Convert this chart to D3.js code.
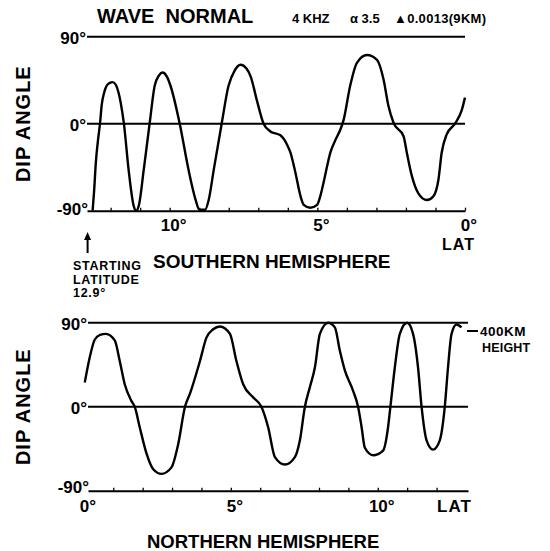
<!DOCTYPE html>
<html><head><meta charset="utf-8">
<script src="https://cdn.jsdelivr.net/npm/d3@7"></script>
<style>
html,body{margin:0;padding:0;background:#fff;}
text{font-family:"Liberation Sans",Arial,sans-serif;font-weight:bold;fill:#000;}
</style></head>
<body><svg id="c" width="550" height="551"></svg>
<script>
// ---- data ----
const topLat = [12.61,12.56,12.50,12.42,12.36,12.30,12.22,12.14,12.04,11.93,11.82,11.74,11.66,11.55,11.39,11.22,11.13,11.04,10.88,10.68,10.51,10.36,10.24,10.10,9.97,9.66,9.36,9.12,9.00,8.80,8.68,8.51,8.24,8.01,7.80,7.60,7.40,7.26,7.03,6.82,6.59,6.25,6.02,5.91,5.74,5.57,5.46,5.24,5.01,4.90,4.79,4.67,4.56,4.39,4.22,4.11,3.89,3.66,3.32,2.98,2.76,2.59,2.42,2.08,1.97,1.80,1.58,1.29,1.07,0.90,0.79,0.62,0.34,0.11,0.00];
const topDip = [-90,-70,-40,-15,0,20,32,39,42,43,40,33,22,0,-48,-85,-90,-84,-48,0,39,50,53,49,39,0,-48,-79,-89,-89,-79,-48,0,39,55,61,57,49,22,0,-8,-12,-22,-30,-51,-75,-84,-87,-84,-75,-61,-44,-30,-17,-6,4,39,63,71,66,46,18,1,-13,-30,-54,-72,-79,-75,-58,-30,-11,0,14,27];
const botLat = [0.03,0.20,0.37,0.55,0.75,1.05,1.22,1.39,1.62,1.73,1.90,2.13,2.36,2.64,2.98,3.21,3.44,3.61,3.95,4.17,4.40,4.63,4.97,5.19,5.42,5.76,6.04,6.27,6.50,6.84,7.18,7.35,7.52,7.69,7.86,8.03,8.31,8.54,8.71,8.88,9.16,9.33,9.45,9.56,9.84,10.18,10.35,10.43,10.58,10.75,11.00,11.20,11.37,11.49,11.66,11.88,12.11,12.28,12.39,12.51,12.68,12.85];
const botDip = [26,53,72,77,78,71,49,24,6,0,-22,-50,-67,-72,-65,-40,0,14,49,74,83,86,78,49,24,10,0,-22,-54,-62,-54,-36,0,21,42,78,90,85,60,39,17,0,-22,-44,-52,-47,-22,0,42,78,90,78,42,0,-36,-46,-36,0,42,78,88,85];
const dipLevels = [90, 0];
const dipLabels = [90, 0, -90];
const topTicks = [0,1,2,3,4,5,6,7,8,9,10,11,12];
const botTicks = [1,2,3,4,5,6,7,8,9,10,11,12];
const topTickLabels = [10, 5, 0];
const botTickLabels = [0, 5, 10];
const topExtent = [12.8, 0];
const botExtent = [0.14, 13.07];

const svg = d3.select("#c");
svg.append("rect").attr("width",550).attr("height",551).attr("fill","#fff");

function panel(cfg){
  const x = d3.scaleLinear().domain(cfg.ext).range(cfg.xr);
  const y = d3.scaleLinear().domain([-90,90]).range(cfg.yr);
  const g = svg.append("g");
  g.selectAll("line.h").data(dipLevels).join("line")
    .attr("x1", x(cfg.ext[0])).attr("x2", x(cfg.ext[1]))
    .attr("y1", d=>y(d)).attr("y2", d=>y(d))
    .attr("stroke","#000").attr("stroke-width",2);
  const ax = d3.axisBottom(x).tickValues(cfg.ticks).tickSizeInner(-3).tickSizeOuter(0).tickFormat("");
  const ag = g.append("g").attr("transform",`translate(0,${y(-90)})`).call(ax);
  ag.select(".domain").attr("stroke","#000").attr("stroke-width",2);
  ag.selectAll(".tick line").attr("stroke","#000").attr("stroke-width",1.3);
  g.selectAll("text.yl").data(dipLabels).join("text")
    .attr("x", d=> d===-90 ? cfg.xr[0]+1 : cfg.xr[0]-1)
    .attr("y", d=>y(d)+ (d===-90 ? cfg.m90dy : 7))
    .attr("text-anchor","end").attr("font-size",17)
    .text(d=> (d<0?"-":"") + Math.abs(d) + "°");
  g.selectAll("text.xl").data(cfg.tickLabels).join("text")
    .attr("x", d=>x(d)+4).attr("y", y(-90)+cfg.xlDy)
    .attr("text-anchor","middle").attr("font-size",17)
    .text(d=>d+"°");
  const pts = cfg.lat.map((l,i)=>[x(l), y(cfg.dip[i])]).sort((a,b)=>a[0]-b[0]);
  g.append("path").attr("d", d3.line().curve(d3.curveMonotoneX)(pts))
    .attr("fill","none").attr("stroke","#000").attr("stroke-width",2.4)
    .attr("stroke-linejoin","round");
  g.append("text").attr("transform",`translate(30,${y(0)}) rotate(-90)`)
    .attr("text-anchor","middle").attr("font-size",20).attr("letter-spacing",1)
    .text("DIP ANGLE");
  g.append("text").attr("x",cfg.latX).attr("y",y(-90)+cfg.latDy).attr("font-size",cfg.latFs)
    .attr("letter-spacing",1).text("LAT");
  return {x,y};
}

const T = panel({lat:topLat, dip:topDip, ext:topExtent, xr:[87,465], yr:[210.7,36.7],
  ticks:topTicks, tickLabels:topTickLabels, xlDy:20.5, m90dy:4, latX:442, latDy:39.5, latFs:16});
const B = panel({lat:botLat, dip:botDip, ext:botExtent, xr:[88,468], yr:[490.7,322.7],
  ticks:botTicks, tickLabels:botTickLabels, xlDy:21, m90dy:2, latX:437, latDy:21, latFs:17});

// title & header
svg.append("text").attr("x",97).attr("y",23).attr("font-size",20).text("WAVE\u00a0 NORMAL");
svg.append("text").attr("x",292).attr("y",23).attr("font-size",13).text("4 KHZ");
svg.append("text").attr("x",350).attr("y",23).attr("font-size",13).text("α 3.5");
svg.append("text").attr("x",394).attr("y",23).attr("font-size",13).attr("letter-spacing",0.3).text("▲0.0013(9KM)");

// starting latitude arrow & note
svg.append("line").attr("x1",T.x(12.78)).attr("x2",T.x(12.78)).attr("y1",253).attr("y2",236)
  .attr("stroke","#000").attr("stroke-width",2);
svg.append("path").attr("d",`M${T.x(12.78)-3.5},240 L${T.x(12.78)},232 L${T.x(12.78)+3.5},240 Z`).attr("fill","#000");
const note = ["STARTING","LATITUDE","12.9°"];
svg.selectAll("text.note").data(note).join("text")
  .attr("x",73).attr("y",(d,i)=>270+i*13.5).attr("font-size",12.5).attr("letter-spacing",0.7).text(d=>d);
svg.append("text").attr("x",153).attr("y",268).attr("font-size",19).text("SOUTHERN HEMISPHERE");
svg.append("text").attr("x",147).attr("y",548).attr("font-size",18.5).text("NORTHERN HEMISPHERE");

// 400 km height label
svg.append("line").attr("x1",467).attr("x2",478).attr("y1",331).attr("y2",331).attr("stroke","#000").attr("stroke-width",2);
svg.append("text").attr("x",480).attr("y",335.5).attr("font-size",13.5).attr("letter-spacing",0.5).text("400KM");
svg.append("text").attr("x",482).attr("y",352).attr("font-size",12.5).attr("letter-spacing",0.2).text("HEIGHT");
</script></body></html>
